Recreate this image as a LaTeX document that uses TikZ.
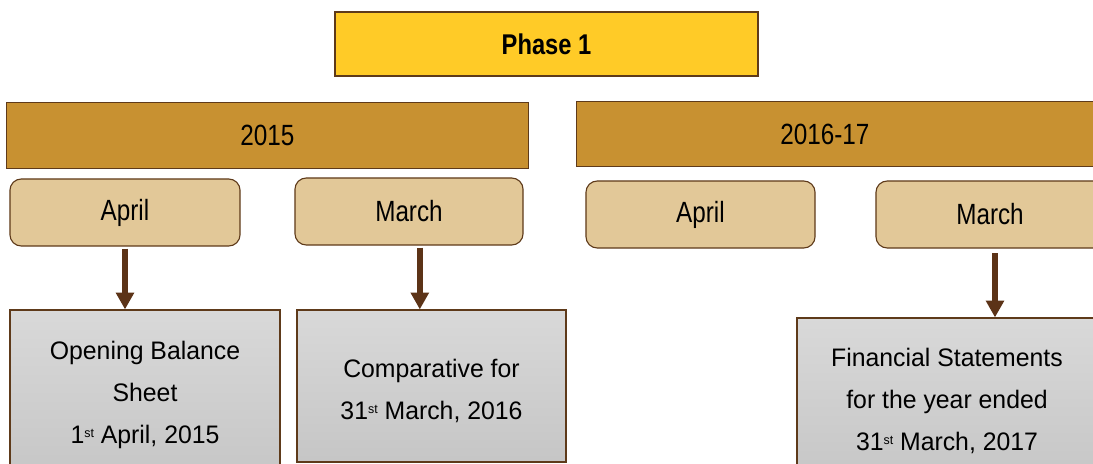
\documentclass[tikz,border=0pt]{standalone}
\usepackage{fontspec}
\setmainfont{Liberation Sans}
\newfontfamily\narrowfont[FakeStretch=0.83]{Liberation Sans}
\newfontfamily\boxfont[FakeStretch=0.98]{Liberation Sans}
\usetikzlibrary{arrows.meta}
\definecolor{phaseyellow}{HTML}{FFCB27}
\definecolor{yeargold}{HTML}{C89131}
\definecolor{monthtan}{HTML}{E2C898}
\definecolor{edgebrown}{HTML}{5E3A1A}
\definecolor{arrowbrown}{HTML}{5C3317}
\newcommand{\ordsup}[1]{\raisebox{4.3pt}{\fontsize{9}{9}\selectfont #1}}
\tikzstyle{phase box}=[draw=edgebrown, line width=1.4pt, fill=phaseyellow, minimum width=10.575cm, minimum height=1.6cm, font=\narrowfont\bfseries\fontsize{20.3}{22}\selectfont]
\tikzstyle{year box}=[draw=edgebrown, line width=0.8pt, fill=yeargold, minimum height=1.63cm, font=\narrowfont\fontsize{20.8}{22}\selectfont]
\tikzstyle{month box}=[draw=edgebrown, line width=0.8pt, fill=monthtan, rounded corners=8pt, minimum height=1.675cm, font=\narrowfont\fontsize{20.8}{22}\selectfont]
\tikzstyle{result box}=[draw=edgebrown, line width=0.8pt, top color=gray!30, bottom color=gray!45, align=center, font=\boxfont\fontsize{18}{29.8}\selectfont]
\tikzstyle{result text}=[align=center, font=\boxfont\fontsize{18}{29.8}\selectfont]
\tikzstyle{flow}=[draw=arrowbrown, line width=4.5pt, -{Triangle[width=12.5pt, length=12pt]}]

\begin{document}
\begin{tikzpicture}[x=0.025cm, y=-0.025cm]
      \useasboundingbox (0,0) rectangle (1093,464);
      \clip (0,0) rectangle (1093,464);

      \node[phase box] (phase) at (546.5, 44) {Phase 1};

      \node[year box, minimum width=13.025cm] (yr15) at (267.5, 135.5) {2015};
      \node[year box, minimum width=13.575cm,
        label={[font=\narrowfont\fontsize{20.8}{22}\selectfont, xshift=-0.59cm]center:2016-17}] (yr16) at (848.5, 134) {};

      \node[month box, minimum width=5.75cm] (apr15) at (125, 212.5) {April};
      \node[month box, minimum width=5.7cm] (mar15) at (409, 211.5) {March};
      \node[month box, minimum width=5.725cm] (apr16) at (700.5, 214.5) {April};
      \node[month box, minimum width=5.7cm] (mar16) at (990, 214.5) {March};

      \node[result box, minimum width=6.75cm, minimum height=4.25cm] (obs) at (145, 395)
        {Opening Balance\\Sheet\\1\ordsup{st} April, 2015};
      \node[result box, minimum width=6.725cm, minimum height=3.8cm,
        label={[result text, yshift=-0.125cm]center:Comparative for\\31\ordsup{st} March, 2016}] (comp) at (431.5, 386) {};
      \node[result box, minimum width=7.5cm, minimum height=4.15cm] (fin) at (947, 401)
        {Financial Statements\\for the year ended\\31\ordsup{st} March, 2017};

      \draw[flow] ([yshift=-0.05cm]apr15.south) -- (apr15.south |- obs.north);
      \draw[flow] ([xshift=0.27cm, yshift=-0.05cm]mar15.south) -- ([xshift=0.27cm]mar15.south |- comp.north);
      \draw[flow] ([xshift=0.125cm, yshift=-0.12cm]mar16.south) -- ([xshift=0.125cm]mar16.south |- fin.north);
\end{tikzpicture}
\end{document}
